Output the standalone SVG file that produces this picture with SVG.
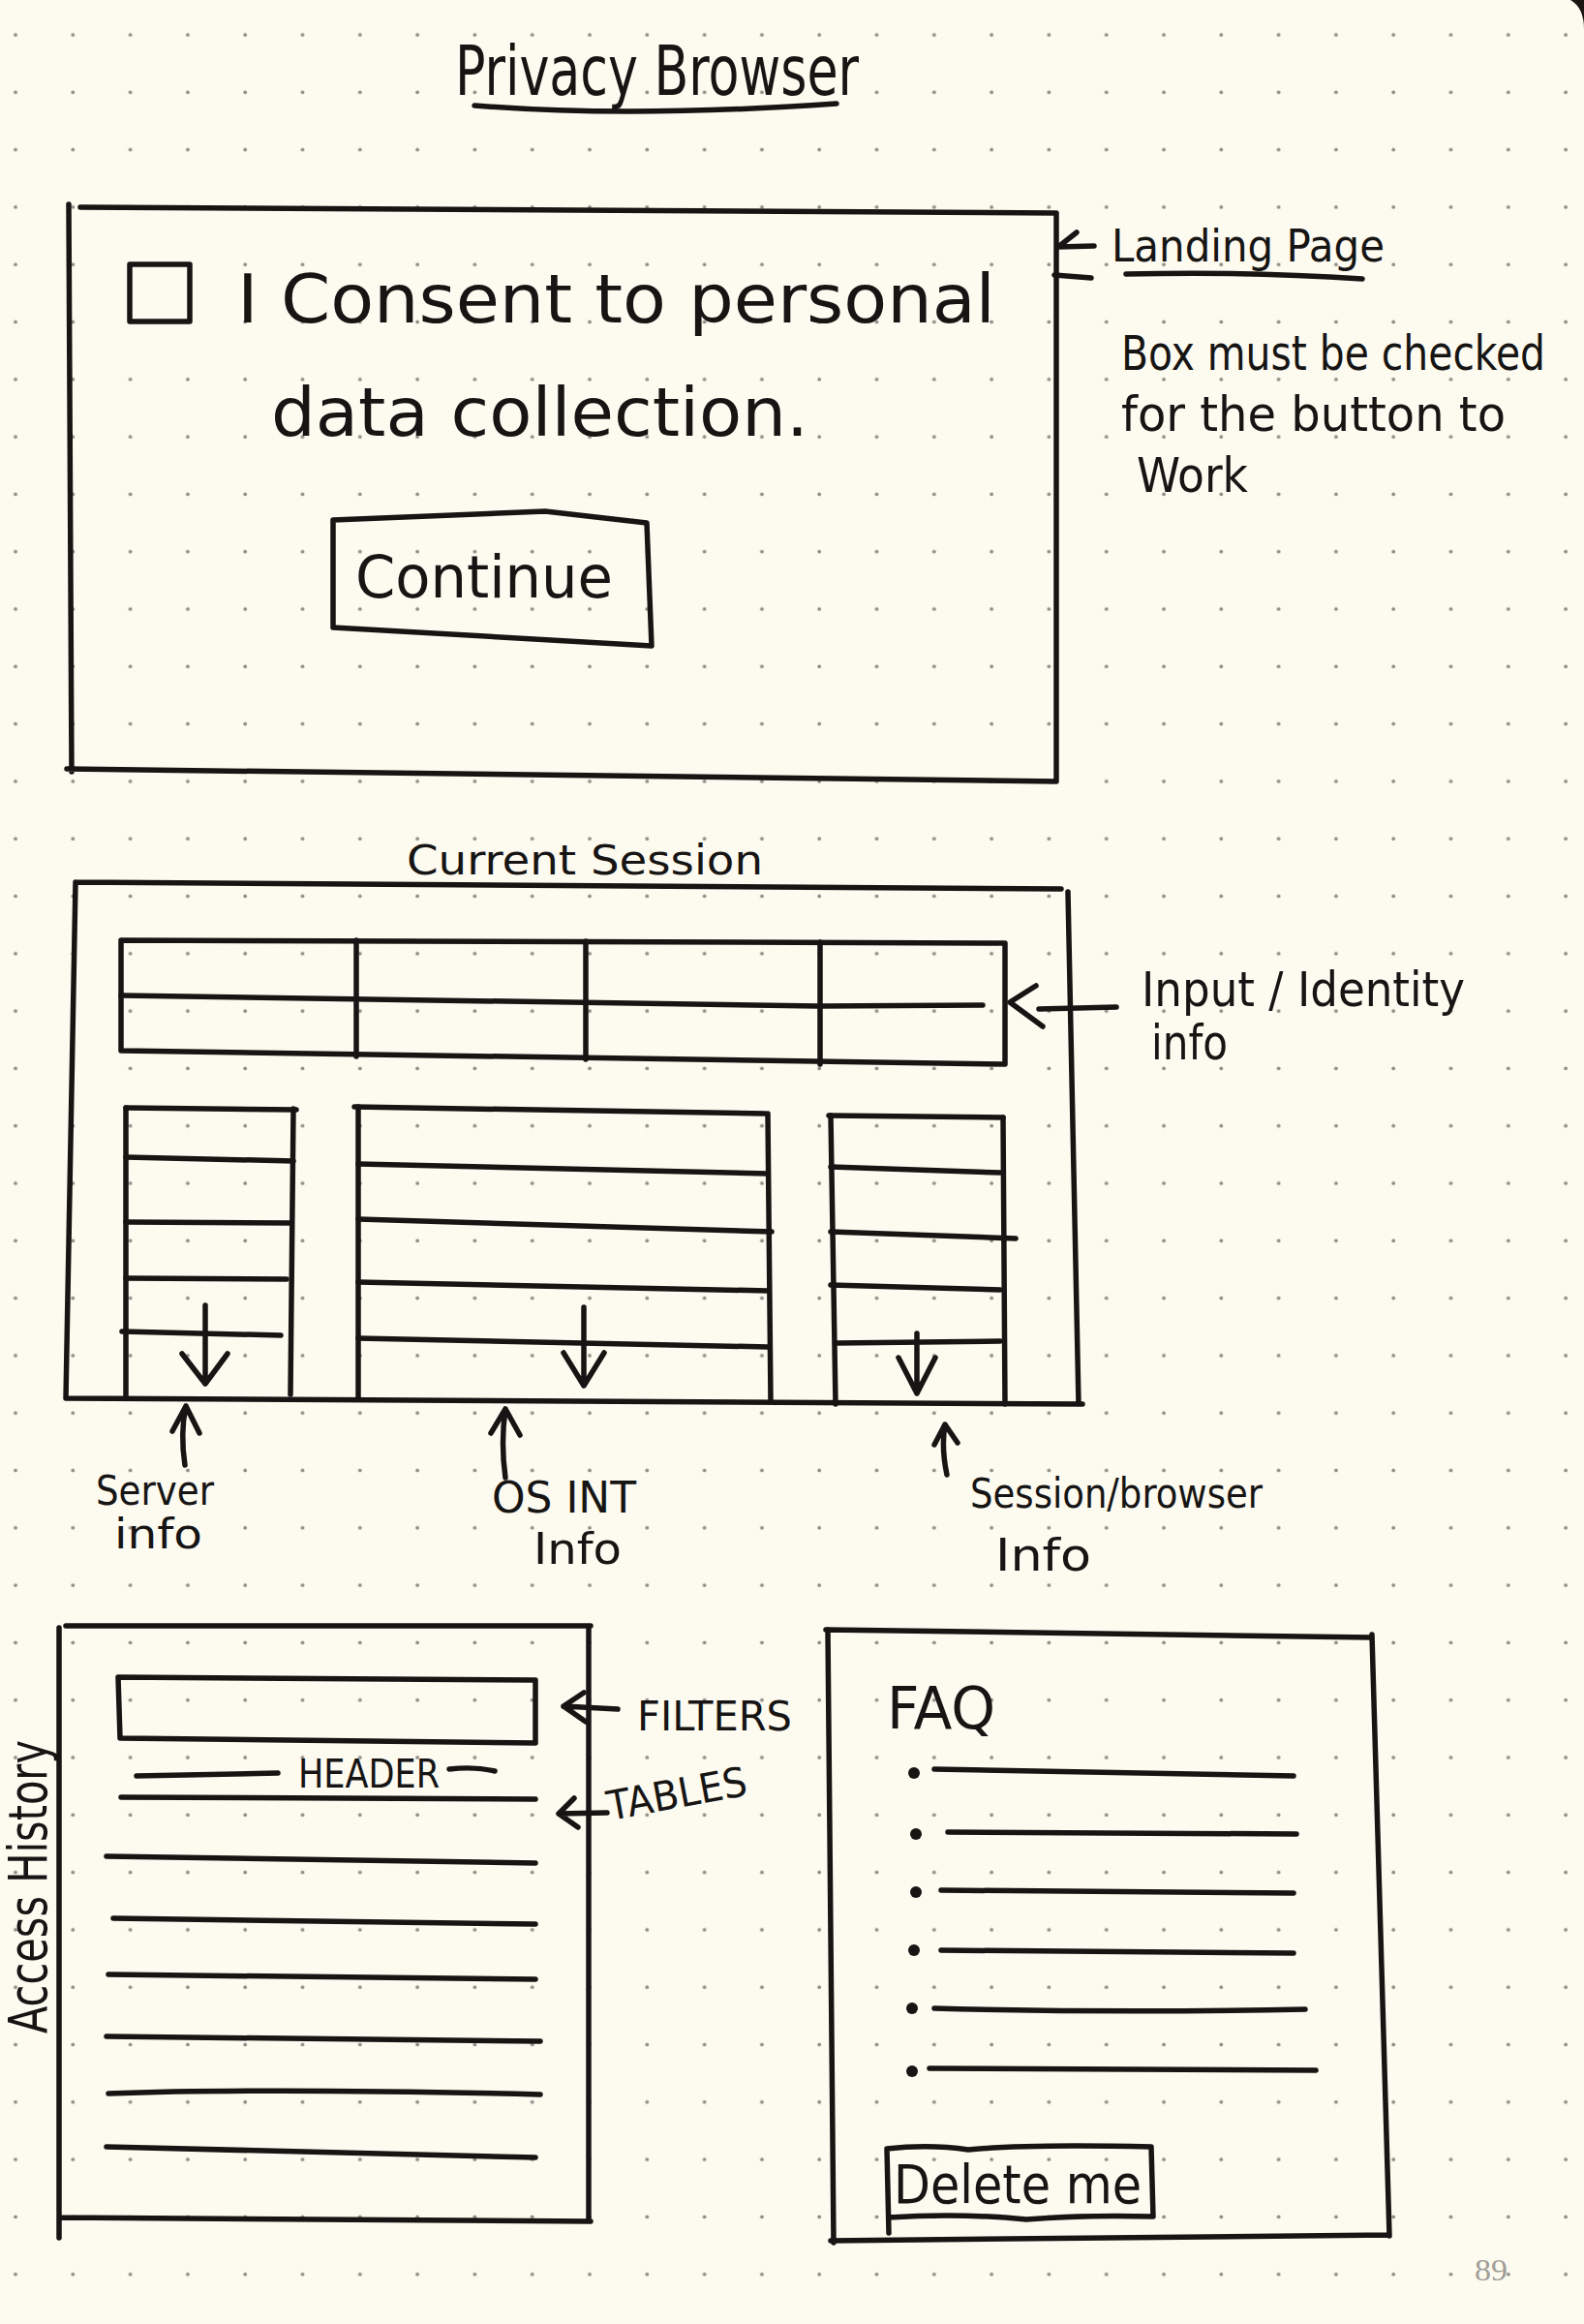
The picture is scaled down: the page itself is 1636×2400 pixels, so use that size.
<svg xmlns="http://www.w3.org/2000/svg" width="1636" height="2400" viewBox="0 0 1636 2400">
<defs>
<pattern id="dots" patternUnits="userSpaceOnUse" x="0" y="0" width="59.3" height="59.3">
<circle cx="16" cy="36" r="1.9" fill="#8f8d85"/>
</pattern>
<style>
.ln{fill:none;stroke:#161514;stroke-width:5.5;stroke-linecap:round;stroke-linejoin:round}
.t{font-family:"Liberation Sans Narrow","DejaVu Sans Condensed","Liberation Sans",sans-serif;fill:#161514}
.dot{fill:#161514}
</style>
</defs>
<rect width="1636" height="2400" fill="#fdfaf0"/>
<rect width="1636" height="2400" fill="url(#dots)"/>
<path d="M1622,0 Q1636,8 1636,30 L1636,0 Z" fill="#1a1513"/>

<g id="title">
<text class="t" x="470" y="98" font-size="72" textLength="417" lengthAdjust="spacingAndGlyphs">Privacy Browser</text>
<path class="ln" d="M490,109 Q650,122 864,107"/>
</g>

<g id="landing-page">
<path class="ln" d="M83,214 L1091,220 M71,211 L74,797 M69,794 L1091,807 M1091,220 L1091,807"/>
<rect class="ln" x="134" y="273" width="62" height="59"/>
<text class="t" x="245" y="333" font-size="70" textLength="783" lengthAdjust="spacingAndGlyphs">I  Consent  to  personal</text>
<text class="t" x="280" y="450" font-size="70" textLength="555" lengthAdjust="spacingAndGlyphs">data collection.</text>
</g>

<g id="continue-button">
<path class="ln" d="M344,537 L563,528 L668,540 L673,667 L344,648 Z"/>
<text class="t" x="367" y="617" font-size="60" textLength="266" lengthAdjust="spacingAndGlyphs">Continue</text>
</g>

<g id="landing-note">
<text class="t" x="1148" y="270" font-size="46" textLength="282" lengthAdjust="spacingAndGlyphs">Landing Page</text>
<path class="ln" d="M1163,283 Q1290,280 1407,288"/>
<text class="t" x="1158" y="382" font-size="50" textLength="438" lengthAdjust="spacingAndGlyphs">Box must be checked</text>
<text class="t" x="1158" y="445" font-size="50" textLength="397" lengthAdjust="spacingAndGlyphs">for the button to</text>
<text class="t" x="1174" y="508" font-size="50" textLength="115" lengthAdjust="spacingAndGlyphs">Work</text>
</g>

<g id="current-session">
<text class="t" x="420" y="903" font-size="42" textLength="368" lengthAdjust="spacingAndGlyphs">Current Session</text>
<path class="ln" d="M78,911 L1096,918 M78,911 L68,1444 M1103,921 L1114,1450 M68,1444 L1118,1450"/>
</g>

<g id="input-identity-table">
<path class="ln" d="M125,971 L1038,974 L1038,1099 L125,1085 Z"/>
<path class="ln" d="M125,1028 L845,1039 L1015,1038"/>
<path class="ln" d="M368,971 L368,1091 M605,972 L605,1094 M847,973 L847,1099"/>
</g>

<g id="server-table">
<path class="ln" d="M130,1144 L130,1444 M303,1145 L300,1440"/>
<path class="ln" d="M130,1144 L306,1146 M130,1195 L303,1199 M130,1262 L300,1263 M130,1320 L296,1321 M126,1375 L290,1379"/>
</g>

<g id="osint-table">
<path class="ln" d="M370,1143 L370,1444 M793,1150 L796,1447"/>
<path class="ln" d="M366,1143 L790,1150 M370,1202 L793,1212 M370,1259 L797,1272 M370,1324 L793,1333 M370,1382 L793,1391"/>
</g>

<g id="session-table">
<path class="ln" d="M858,1152 L863,1450 M1036,1154 L1038,1450"/>
<path class="ln" d="M856,1152 L1036,1154 M858,1205 L1033,1211 M858,1272 L1049,1279 M858,1327 L1033,1332 M864,1387 L1033,1385"/>
</g>

<g id="access-history">
<path class="ln" d="M68,1679 L610,1679 M61,1681 L61,2311 M608,1679 L608,2294 M61,2290 L610,2294"/>
<path class="ln" d="M122,1732 L553,1735 L553,1800 L124,1795 Z"/>
<path class="ln" d="M141,1834 L287,1831 M464,1827 Q490,1824 511,1829"/>
<text class="t" x="308" y="1846" font-size="40" textLength="146" lengthAdjust="spacingAndGlyphs">HEADER</text>
<path class="ln" d="M125,1856 L553,1858 M110,1917 L553,1924 M117,1981 L553,1987 M112,2039 L553,2044 M110,2103 L558,2108 M112,2162 Q280,2156 558,2163 M110,2217 L553,2228"/>
<text class="t" transform="translate(48,2100) rotate(-90)" font-size="56" textLength="303" lengthAdjust="spacingAndGlyphs">Access  History</text>
</g>

<g id="faq">
<path class="ln" d="M853,1683 L1417,1691 M855,1683 L861,2316 M1417,1688 L1435,2309 M858,2314 L1435,2308"/>
<text class="t" x="916" y="1785" font-size="60" textLength="112" lengthAdjust="spacingAndGlyphs">FAQ</text>
<circle class="dot" cx="944" cy="1831" r="6"/>
<circle class="dot" cx="946" cy="1894" r="6"/>
<circle class="dot" cx="946" cy="1954" r="6"/>
<circle class="dot" cx="944" cy="2014" r="6"/>
<circle class="dot" cx="942" cy="2074" r="6"/>
<circle class="dot" cx="942" cy="2139" r="6"/>
<path class="ln" d="M965,1827 L1336,1834 M979,1892 L1339,1894 M972,1952 L1336,1955 M972,2014 L1336,2017 M965,2074 Q1150,2079 1348,2075 M960,2136 L1359,2138"/>
</g>

<g id="delete-button">
<path class="ln" d="M916,2219 Q960,2214 1000,2220 Q1060,2214 1189,2217 L1191,2289 Q1120,2287 1060,2292 Q990,2285 918,2290 M916,2219 L918,2306"/>
<text class="t" x="923" y="2275" font-size="55" textLength="256" lengthAdjust="spacingAndGlyphs">Delete me</text>
</g>

<g id="connectors">
<path class="ln" d="M1093,255 L1130,254 M1093,255 L1112,240 M1089,284 L1127,287"/>
<path class="ln" d="M1153,1040 L1073,1042 M1070,1018 L1043,1035 L1077,1060"/>
<path class="ln" d="M212,1348 L212,1429 M188,1398 L212,1429 L235,1398"/>
<path class="ln" d="M603,1350 L603,1431 M582,1397 L603,1431 L624,1397"/>
<path class="ln" d="M947,1377 L947,1439 M928,1402 L947,1439 L966,1402"/>
<path class="ln" d="M191,1513 Q186,1480 192,1452 M178,1478 L192,1452 L206,1480"/>
<path class="ln" d="M522,1526 Q517,1490 522,1455 M507,1480 L522,1455 L537,1482"/>
<path class="ln" d="M978,1523 Q972,1495 976,1471 M965,1492 L976,1471 L989,1490"/>
<path class="ln" d="M638,1765 L582,1762 M603,1748 L582,1762 L605,1778"/>
<path class="ln" d="M627,1872 L577,1873 M593,1857 L577,1873 L597,1887"/>
</g>

<g id="labels">
<text class="t" x="1179" y="1039" font-size="50" textLength="334" lengthAdjust="spacingAndGlyphs">Input / Identity</text>
<text class="t" x="1189" y="1094" font-size="50" textLength="79" lengthAdjust="spacingAndGlyphs">info</text>
<text class="t" x="99" y="1554" font-size="42" textLength="122" lengthAdjust="spacingAndGlyphs">Server</text>
<text class="t" x="118" y="1599" font-size="42" textLength="91" lengthAdjust="spacingAndGlyphs">info</text>
<text class="t" x="508" y="1562" font-size="44" textLength="149" lengthAdjust="spacingAndGlyphs">OS INT</text>
<text class="t" x="551" y="1615" font-size="44" textLength="91" lengthAdjust="spacingAndGlyphs">Info</text>
<text class="t" x="1002" y="1557" font-size="42" textLength="302" lengthAdjust="spacingAndGlyphs">Session/browser</text>
<text class="t" x="1028" y="1622" font-size="46" textLength="99" lengthAdjust="spacingAndGlyphs">Info</text>
<text class="t" x="658" y="1787" font-size="42" textLength="160" lengthAdjust="spacingAndGlyphs">FILTERS</text>
<text class="t" transform="translate(630,1880) rotate(-10.5)" font-size="42" textLength="146" lengthAdjust="spacingAndGlyphs">TABLES</text>
</g>

<text x="1523" y="2355" font-family="Liberation Serif, serif" font-size="32" fill="#a19f98" textLength="34" lengthAdjust="spacingAndGlyphs">89</text>
</svg>
